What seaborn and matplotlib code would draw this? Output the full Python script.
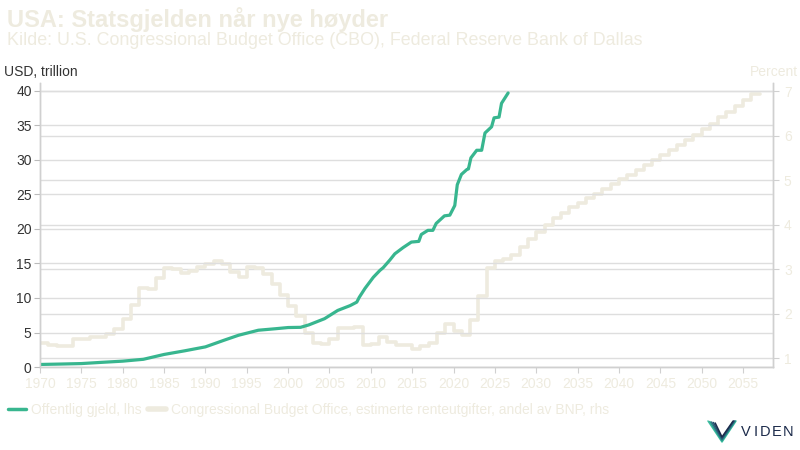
import numpy as np
import pandas as pd
import matplotlib
matplotlib.use("Agg")
import matplotlib.pyplot as plt
from matplotlib.lines import Line2D
import seaborn as sns

sns.set_style("white")
plt.rcParams['font.family'] = ['Liberation Sans', 'DejaVu Sans']

# --- data ---
debt_years = [1970.0, 1972.5, 1975.0, 1977.5, 1980.0, 1982.5, 1985.0, 1987.5, 1990.0,
              1992.3, 1994.0, 1996.4, 1998.5, 2000.0, 2001.5, 2002.5, 2004.4, 2006.0,
              2007.5, 2008.3, 2008.6, 2009.3, 2010.3, 2011.1, 2011.5, 2012.3, 2012.9,
              2013.9, 2014.9, 2015.8, 2016.1, 2016.9, 2017.5, 2017.9, 2018.9, 2019.55,
              2020.15, 2020.45, 2020.95, 2021.6, 2021.8, 2022.1, 2022.8, 2023.4, 2023.8,
              2024.6, 2024.9, 2025.5, 2025.8, 2026.6]
debt_values = [0.37, 0.43, 0.50, 0.68, 0.85, 1.12, 1.82, 2.35, 2.92,
               3.90, 4.60, 5.33, 5.55, 5.72, 5.75, 6.10, 7.00, 8.20,
               8.90, 9.40, 10.10, 11.40, 13.00, 14.00, 14.40, 15.50, 16.40,
               17.30, 18.10, 18.20, 19.20, 19.80, 19.80, 20.80, 21.90, 22.00,
               23.40, 26.40, 27.90, 28.60, 28.70, 30.30, 31.40, 31.40, 33.90,
               34.80, 36.10, 36.20, 38.20, 39.70]

cbo_years = list(range(1970, 2057))
cbo_values = [1.35, 1.31, 1.28, 1.28, 1.44, 1.44, 1.49, 1.47, 1.55, 1.65,
              1.88, 2.19, 2.57, 2.55, 2.80, 3.03, 3.00, 2.91, 2.96, 3.04,
              3.11, 3.18, 3.11, 2.94, 2.83, 3.05, 3.02, 2.90, 2.68, 2.42,
              2.18, 1.94, 1.58, 1.35, 1.32, 1.44, 1.68, 1.68, 1.70, 1.31,
              1.33, 1.47, 1.36, 1.31, 1.31, 1.22, 1.28, 1.34, 1.57, 1.76,
              1.61, 1.52, 1.85, 2.39, 3.03, 3.18, 3.24, 3.31, 3.50, 3.67,
              3.84, 4.00, 4.15, 4.27, 4.39, 4.49, 4.61, 4.70, 4.81, 4.91,
              5.02, 5.11, 5.22, 5.34, 5.45, 5.56, 5.67, 5.79, 5.90, 6.01,
              6.15, 6.27, 6.41, 6.53, 6.66, 6.80, 6.93]

title = "USA: Statsgjelden når nye høyder"
subtitle = "Kilde: U.S. Congressional Budget Office (CBO), Federal Reserve Bank of Dallas"
debt_label = "Offentlig gjeld, lhs"
cbo_label = "Congressional Budget Office, estimerte renteutgifter, andel av BNP, rhs"
xticks = list(range(1970, 2056, 5))
left_ticks = list(range(0, 41, 5))
right_ticks = list(range(1, 8))

GREEN = "#38b68f"
BEIGE = "#eeebdf"
GRID = "#dedede"
DARK = "#333333"

df_debt = pd.DataFrame({"year": debt_years, "debt": debt_values})
# close last annual step so it spans its year
df_cbo = pd.DataFrame({"year": cbo_years + [cbo_years[-1] + 1],
                       "pct": cbo_values + [cbo_values[-1]]})

fig = plt.figure(figsize=(8, 4.5), dpi=100)
ax = fig.add_axes([0.05, 0.1844, 0.916, 0.632])
ax2 = ax.twinx()

sns.lineplot(data=df_cbo, x="year", y="pct", ax=ax2, color=BEIGE, linewidth=2.6,
             drawstyle="steps-post", legend=False)
sns.lineplot(data=df_debt, x="year", y="debt", ax=ax, color=GREEN, linewidth=2.3,
             legend=False)

ax.set_zorder(ax2.get_zorder() + 1)
ax.patch.set_visible(False)

ax.set_xlim(1970, 2058.6)
ax.set_ylim(0, 41.2)
ax2.set_ylim(0.805, 7.19)

ax.set_xticks(xticks)
ax.set_yticks(left_ticks)
ax2.set_yticks(right_ticks)
ax.set_xlabel("")
ax.set_ylabel("")
ax2.set_ylabel("")

for a in (ax, ax2):
    a.grid(axis="y", color=GRID, linewidth=1)
    a.grid(axis="x", visible=False)
    for s in a.spines.values():
        s.set_color("#d0d0d0")
        s.set_linewidth(1)
    a.spines["top"].set_visible(False)

ax.tick_params(axis="y", left=True, length=4, color="#bbbbbb", labelsize=10,
               labelcolor=DARK, pad=2)
ax.tick_params(axis="x", bottom=True, length=4, color="#d0d0d0", labelsize=10,
               labelcolor=BEIGE, pad=3)
ax2.tick_params(axis="y", right=True, length=4, color="#d0d0d0", labelsize=10,
                labelcolor=BEIGE, pad=4)

fig.text(0.009, 0.939, title, fontsize=17, fontweight="bold", color=BEIGE, va="baseline")
fig.text(0.009, 0.899, subtitle, fontsize=12.9, color=BEIGE, va="baseline")
fig.text(0.005, 0.84, "USD, trillion", fontsize=10, color=DARK, va="center")
fig.text(0.997, 0.84, "Percent", fontsize=10, color=BEIGE, va="center", ha="right")

handles = [Line2D([], [], color=GREEN, linewidth=2.5),
           Line2D([], [], color=BEIGE, linewidth=4)]
fig.legend(handles, [debt_label, cbo_label], loc="center left",
           bbox_to_anchor=(0.003, 1 - 410 / 450), ncol=2, frameon=False,
           fontsize=10, labelcolor=BEIGE, handlelength=1.3, handletextpad=0.35,
           columnspacing=0.5, borderaxespad=0)

# logo
logo_cols = ["#3cc0a0", "#2a9a8e", "#2a6a7e", "#244f6e", "#1b2c4c"]
for i, c in enumerate(logo_cols):
    d = i * 1.8
    xs = np.array([708 + d, 722, 736 - d * 0.4]) / 800
    ys = 1 - np.array([421 + i * 0.5, 442 - d * 0.7, 421]) / 450
    fig.add_artist(Line2D(xs, ys, color=c, linewidth=1.1))
for ch, cx in zip("VIDEN", [745.8, 755.3, 765.2, 777.0, 788.3]):
    fig.text(cx / 800, 1 - 432 / 450, ch, fontsize=10.5,
             color="#1b2a4a", va="center", ha="center")

fig.savefig("out.png", dpi=100)
